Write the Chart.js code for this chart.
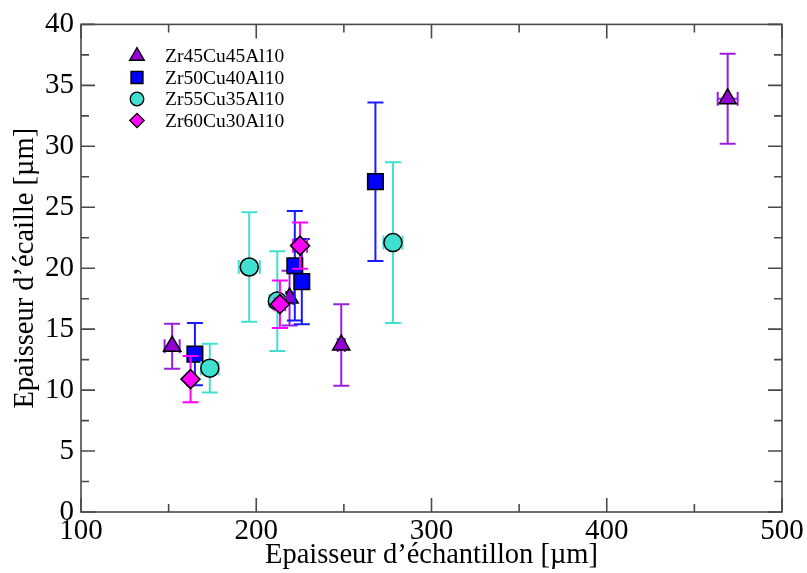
<!DOCTYPE html>
<html>
<head>
<meta charset="utf-8">
<script src="https://cdn.jsdelivr.net/npm/chart.js@4/dist/chart.umd.min.js"></script>
<style>
  html, body { margin: 0; padding: 0; background: #fff; }
  #wrap { width: 807px; height: 573px; }
</style>
</head>
<body>
<div id="wrap"><canvas id="myChart" width="807" height="573"></canvas></div>
<script>
// series values (x = sample thickness, y = scale thickness, with error bars)
const seriesNames = ['Zr45Cu45Al10', 'Zr50Cu40Al10', 'Zr55Cu35Al10', 'Zr60Cu30Al10'];

const zr45X = [152, 219, 248.5, 469];
const zr45Y = [13.6, 17.55, 13.7, 33.9];
const zr45YErr = [1.85, 2.25, 3.35, 3.7];
const zr45XErr = [4.3, 2, 2, 5.7];

const zr50X = [165, 222, 226, 268];
const zr50Y = [12.95, 20.2, 18.9, 27.1];
const zr50YErr = [2.55, 4.5, 3.5, 6.5];
const zr50XErr = [2, 2, 2, 2];

const zr55X = [173.5, 196, 212, 278];
const zr55Y = [11.8, 20.1, 17.3, 22.1];
const zr55YErr = [2, 4.5, 4.1, 6.6];
const zr55XErr = [5, 6, 4.5, 5.4];

const zr60X = [162.5, 213.5, 225];
const zr60Y = [10.9, 17.05, 21.85];
const zr60YErr = [1.9, 1.95, 1.9];
const zr60XErr = [2, 3, 4];

const xTicks = [100, 200, 300, 400, 500];
const yTicks = [0, 5, 10, 15, 20, 25, 30, 35, 40];

function pts(xs, ys, yErr, xErr) {
    return xs.map(function (x, i) {
        return { x: x, y: ys[i], ye: yErr[i], xe: xErr[i] };
    });
}

const fontFamily = '"Liberation Serif", "DejaVu Serif", serif';

const datasets = [
    { label: seriesNames[0], data: pts(zr45X, zr45Y, zr45YErr, zr45XErr), pointStyle: 'triangle', pointRadius: 10,
      backgroundColor: '#9400d3', borderColor: '#000', errColor: '#9a1ee0', legendRadius: 8.5, order: 3 },
    { label: seriesNames[1], data: pts(zr50X, zr50Y, zr50YErr, zr50XErr), pointStyle: 'rect', pointRadius: 11,
      backgroundColor: '#0000ff', borderColor: '#000', errColor: '#1a1aff', legendRadius: 8.5, order: 2 },
    { label: seriesNames[2], data: pts(zr55X, zr55Y, zr55YErr, zr55XErr), pointStyle: 'circle', pointRadius: 9,
      backgroundColor: '#40e0d0', borderColor: '#000', errColor: '#40e0d0', legendRadius: 6.8, order: 1 },
    { label: seriesNames[3], data: pts(zr60X, zr60Y, zr60YErr, zr60XErr), pointStyle: 'rectRot', pointRadius: 9.5,
      backgroundColor: '#ff00ff', borderColor: '#000', errColor: '#ff00ff', legendRadius: 7.2, order: 0 }
];
datasets.forEach(function (d) { d.borderWidth = 1.5; d.pointHoverRadius = d.pointRadius; });

// error bars drawn with the chart scales, just before each dataset
const errorBars = {
    id: 'errorBars',
    beforeDatasetDraw: function (chart, args) {
        const ds = chart.data.datasets[args.index];
        const xs = chart.scales.x, ys = chart.scales.y;
        const ctx = chart.ctx;
        ctx.save();
        ctx.strokeStyle = ds.errColor;
        ctx.lineWidth = 2;
        ds.data.forEach(function (p) {
            const px = xs.getPixelForValue(p.x);
            const top = ys.getPixelForValue(p.y + p.ye);
            const bot = ys.getPixelForValue(p.y - p.ye);
            const py = ys.getPixelForValue(p.y);
            const l = xs.getPixelForValue(p.x - p.xe);
            const r = xs.getPixelForValue(p.x + p.xe);
            ctx.beginPath();
            ctx.moveTo(px, top); ctx.lineTo(px, bot);
            ctx.moveTo(px - 8, top); ctx.lineTo(px + 8, top);
            ctx.moveTo(px - 8, bot); ctx.lineTo(px + 8, bot);
            ctx.moveTo(l, py); ctx.lineTo(r, py);
            ctx.moveTo(l, py - 7); ctx.lineTo(l, py + 7);
            ctx.moveTo(r, py - 7); ctx.lineTo(r, py + 7);
            ctx.stroke();
        });
        ctx.restore();
    }
};

// frame, inward ticks, legend box
const frame = {
    id: 'frame',
    afterDraw: function (chart) {
        const a = chart.chartArea;
        const xs = chart.scales.x, ys = chart.scales.y;
        const ctx = chart.ctx;
        ctx.save();
        ctx.strokeStyle = '#4a4a4a';
        ctx.lineWidth = 1.6;
        ctx.strokeRect(a.left, a.top, a.right - a.left, a.bottom - a.top);
        ctx.beginPath();
        for (let v = 100; v <= 500; v += 50) {
            const x = xs.getPixelForValue(v);
            const len = (v % 100 === 0) ? 14 : 8;
            ctx.moveTo(x, a.bottom); ctx.lineTo(x, a.bottom - len);
            ctx.moveTo(x, a.top); ctx.lineTo(x, a.top + len);
        }
        for (let v = 0; v <= 40; v += 2.5) {
            const y = ys.getPixelForValue(v);
            const len = (v % 5 === 0) ? 14 : 8;
            ctx.moveTo(a.left, y); ctx.lineTo(a.left + len, y);
            ctx.moveTo(a.right, y); ctx.lineTo(a.right - len, y);
        }
        ctx.stroke();

        // legend
        ctx.font = '19.5px ' + fontFamily;
        ctx.textBaseline = 'middle';
        chart.data.datasets.forEach(function (ds, i) {
            const y = 56 + i * 21.5;
            ctx.fillStyle = ds.backgroundColor;
            ctx.strokeStyle = '#000';
            ctx.lineWidth = 1.3;
            Chart.helpers.drawPoint(ctx, { pointStyle: ds.pointStyle, radius: ds.legendRadius, borderWidth: 1.3 }, 137, y);
            ctx.fillStyle = '#000';
            ctx.fillText(ds.label, 165, y + 1);
        });
        ctx.restore();
    }
};

const ctx = document.getElementById('myChart').getContext('2d');

window.myScatter = new Chart(ctx, {
    type: 'scatter',
    data: { datasets: datasets },
    plugins: [errorBars, frame],
    options: {
        responsive: false,
        animation: false,
        layout: { padding: { top: 20, right: 25, left: 0, bottom: 0 } },
        plugins: {
            legend: { display: false },
            tooltip: { enabled: false }
        },
        scales: {
            x: {
                type: 'linear',
                min: 100,
                max: 500,
                afterBuildTicks: function (s) { s.ticks = xTicks.map(function (v) { return { value: v }; }); },
                afterFit: function (s) { s.height = 61; },
                grid: { display: false, drawTicks: false },
                border: { display: false },
                ticks: { color: '#000', padding: 2, maxRotation: 0, font: { family: fontFamily, size: 29 } },
                title: {
                    display: true,
                    text: 'Epaisseur d\u2019\u00e9chantillon [\u00b5m]',
                    color: '#000',
                    padding: { top: -7, bottom: 0 },
                    font: { family: fontFamily, size: 28.5 }
                }
            },
            y: {
                type: 'linear',
                min: 0,
                max: 40,
                afterBuildTicks: function (s) { s.ticks = yTicks.map(function (v) { return { value: v }; }); },
                afterFit: function (s) { s.width = 81; },
                grid: { display: false, drawTicks: false },
                border: { display: false },
                ticks: { color: '#000', padding: 7, font: { family: fontFamily, size: 29 } },
                title: {
                    display: true,
                    text: 'Epaisseur d\u2019\u00e9caille [\u00b5m]',
                    color: '#000',
                    padding: { top: 8, bottom: 0 },
                    font: { family: fontFamily, size: 28.5 }
                }
            }
        }
    }
});
</script>
</body>
</html>
